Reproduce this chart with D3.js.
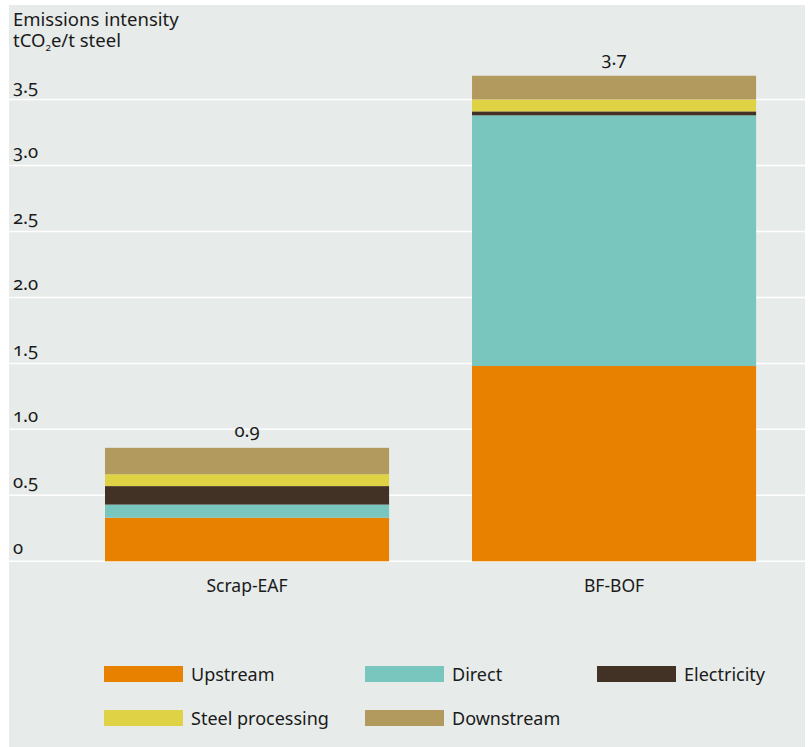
<!DOCTYPE html>
<html>
<head>
<meta charset="utf-8">
<script src="https://cdn.jsdelivr.net/npm/d3@7"></script>
<style>
  html, body { margin: 0; padding: 0; background: #ffffff; }
  svg text { font-family: "Noto Sans", "Open Sans", sans-serif; fill: #1a1a1a; font-variant-numeric: oldstyle-nums; }
</style>
</head>
<body>
<svg id="chart" width="810" height="747"></svg>
<script>
// Emissions intensity by steelmaking route, tCO2e per tonne of steel
const routes = ["Scrap-EAF", "BF-BOF"];
const stages = ["Upstream", "Direct", "Electricity", "Steel processing", "Downstream"];
const upstream        = [0.33, 1.48];
const direct          = [0.10, 1.90];
const electricity     = [0.14, 0.03];
const steelProcessing = [0.09, 0.09];
const downstream      = [0.20, 0.18];
const totalLabels     = ["0.9", "3.7"];
const yTicks          = [0, 0.5, 1.0, 1.5, 2.0, 2.5, 3.0, 3.5];
const yTickLabels     = ["0", "0.5", "1.0", "1.5", "2.0", "2.5", "3.0", "3.5"];
const stageColors     = ["#e88000", "#79c6bf", "#423125", "#dfd244", "#b29a5e"];

const rows = routes.map((r, i) => ({
  route: r,
  "Upstream": upstream[i],
  "Direct": direct[i],
  "Electricity": electricity[i],
  "Steel processing": steelProcessing[i],
  "Downstream": downstream[i]
}));

const svg = d3.select("#chart");

// panel background
svg.append("rect")
  .attr("x", 9).attr("y", 5)
  .attr("width", 796).attr("height", 742)
  .attr("fill", "#e7ebea");

const x = d3.scaleBand()
  .domain(routes)
  .range([68.3, 792.8])
  .paddingInner(0.226)
  .paddingOuter(0.1);

const y = d3.scaleLinear()
  .domain([0, 3.5])
  .range([561.3, 99.5]);

const color = d3.scaleOrdinal().domain(stages).range(stageColors);

// horizontal gridlines
svg.append("g").selectAll("line")
  .data(yTicks)
  .join("line")
  .attr("x1", 9).attr("x2", 805)
  .attr("y1", d => y(d)).attr("y2", d => y(d))
  .attr("stroke", "#ffffff")
  .attr("stroke-width", 1.5);

// y tick labels sit just above each gridline
svg.append("g").selectAll("text")
  .data(yTicks)
  .join("text")
  .attr("x", 13)
  .attr("y", d => y(d) - 7)
  .attr("font-size", 18.5)
  .text((d, i) => yTickLabels[i]);

// axis title, two lines in one text block
const title = svg.append("text").attr("x", 13).attr("y", 26).attr("font-size", 18.5);
title.append("tspan").attr("x", 13).text("Emissions intensity");
title.append("tspan").attr("x", 13).attr("dy", 21).text("tCO");
title.append("tspan").attr("font-size", 10).attr("dy", 4).text("2");
title.append("tspan").attr("dy", -4).text("e/t steel");

// stacked bars
const series = d3.stack().keys(stages)(rows);
svg.append("g").selectAll("g")
  .data(series)
  .join("g")
  .attr("fill", d => color(d.key))
  .selectAll("rect")
  .data(d => d)
  .join("rect")
  .attr("x", d => x(d.data.route))
  .attr("width", x.bandwidth())
  .attr("y", d => y(d[1]))
  .attr("height", d => y(d[0]) - y(d[1]));

// totals above bars
const totals = rows.map(r => stages.reduce((s, k) => s + r[k], 0));
svg.append("g").selectAll("text")
  .data(routes)
  .join("text")
  .attr("x", d => x(d) + x.bandwidth() / 2)
  .attr("y", (d, i) => y(totals[i]) - 11)
  .attr("text-anchor", "middle")
  .attr("font-size", 18.5)
  .text((d, i) => totalLabels[i]);

// category labels
svg.append("g").selectAll("text")
  .data(routes)
  .join("text")
  .attr("x", d => x(d) + x.bandwidth() / 2)
  .attr("y", 592)
  .attr("text-anchor", "middle")
  .attr("font-size", 17.5)
  .text(d => d);

// legend
const legendX = [104, 365, 597];
const legendY = [666, 710];
const legend = svg.append("g").selectAll("g")
  .data(stages)
  .join("g")
  .attr("transform", (d, i) => `translate(${legendX[i % 3]},${legendY[Math.floor(i / 3)]})`);
legend.append("rect")
  .attr("width", 79).attr("height", 16)
  .attr("fill", d => color(d));
legend.append("text")
  .attr("x", 87).attr("y", 15)
  .attr("font-size", 18)
  .text(d => d);
</script>
</body>
</html>
